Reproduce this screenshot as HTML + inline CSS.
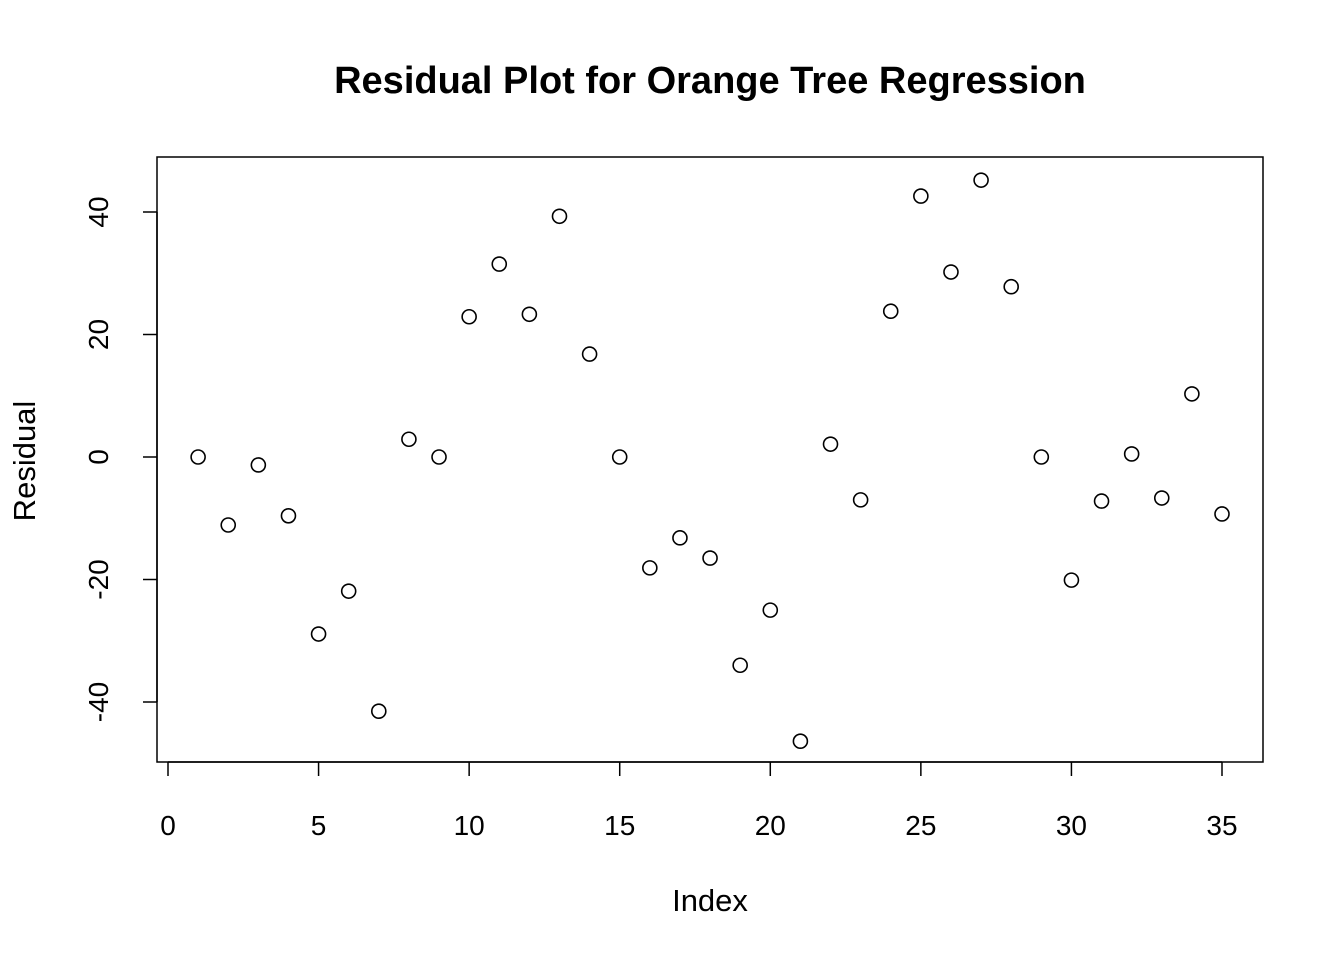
<!DOCTYPE html>
<html><head><meta charset="utf-8"><style>
body{margin:0;background:#fff}
svg text{font-family:"Liberation Sans",Arial,sans-serif;fill:#000}
</style></head><body>
<svg id="chart" width="1344" height="960">
<text x="710" y="93" text-anchor="middle" font-size="38" font-weight="bold">Residual Plot for Orange Tree Regression</text>
<rect x="157" y="157" width="1106" height="605" fill="none" stroke="#000" stroke-width="1.5"/>
<text x="710" y="911" text-anchor="middle" font-size="31">Index</text>
<text transform="translate(35,461) rotate(-90)" text-anchor="middle" font-size="31">Residual</text>
<g id="axes"></g><g id="points"></g>
</svg>
<script>
const xTicks=[0,5,10,15,20,25,30,35];
const yTicks=[-40,-20,0,20,40];
const residuals=[0,-11.1,-1.3,-9.6,-28.9,-21.9,-41.5,2.9,0,22.9,31.5,23.3,39.3,16.8,0,-18.1,-13.2,-16.5,-34.0,-25.0,-46.4,2.1,-7.0,23.8,42.6,30.2,45.2,27.8,0,-20.1,-7.2,0.5,-6.7,10.3,-9.3];
const NS="http://www.w3.org/2000/svg";
const sx=v=>168+v*(1054/35);
const sy=v=>457-v*6.125;
const axes=document.getElementById('axes'),pts=document.getElementById('points');
function mk(t,a,p){const e=document.createElementNS(NS,t);for(const k in a)e.setAttribute(k,a[k]);p.appendChild(e);return e;}
let l=mk('line',{x1:sx(xTicks[0]),x2:sx(xTicks[xTicks.length-1]),y1:762,y2:762,stroke:'#000','stroke-width':1.5},axes);


xTicks.forEach(v=>{
 const t=mk('line',{x1:sx(v),x2:sx(v),y1:762,y2:776,stroke:'#000','stroke-width':1.5},axes);
 
 
 const tx=mk('text',{x:sx(v),y:835,'text-anchor':'middle','font-size':28},axes);tx.textContent=v;
 
 
});
l=mk('line',{x1:157,x2:157,y1:sy(yTicks[0]),y2:sy(yTicks[yTicks.length-1]),stroke:'#000','stroke-width':1.5},axes);


yTicks.forEach(v=>{
 const t=mk('line',{x1:143,x2:157,y1:sy(v),y2:sy(v),stroke:'#000','stroke-width':1.5},axes);
 
 
 const tx=mk('text',{transform:`translate(108,${sy(v)}) rotate(-90)`,'text-anchor':'middle','font-size':28},axes);tx.textContent=v;
 
 
});
residuals.forEach((v,i)=>{
 const c=mk('circle',{cx:sx(i+1),cy:sy(v),r:7,fill:'none',stroke:'#000','stroke-width':1.6},pts);
 
 
});
</script>
</body></html>
